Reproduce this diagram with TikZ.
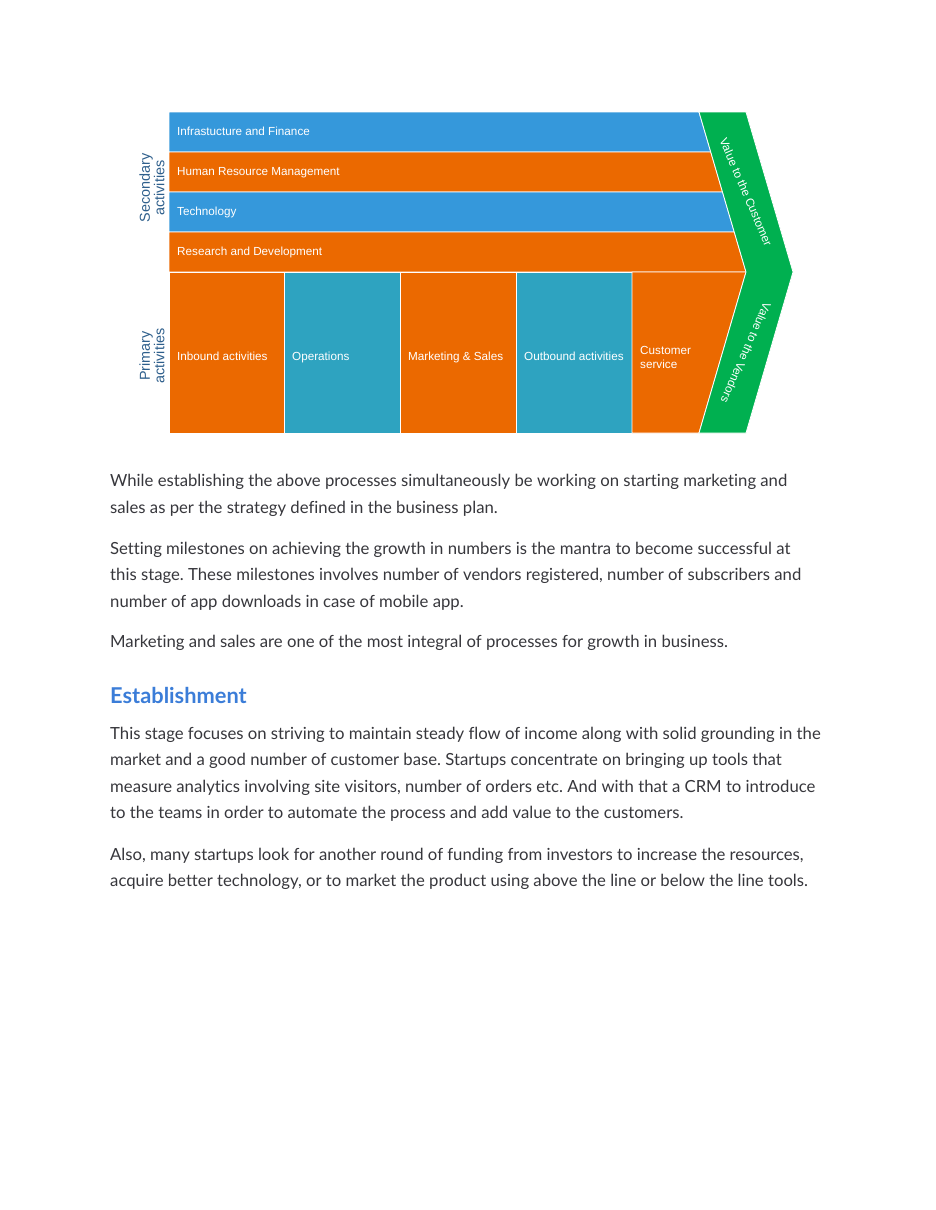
\documentclass[tikz,border=0pt]{standalone}
\usepackage{fontspec}
\setmainfont{Lato}[Ligatures=NoCommon]
\newfontfamily\chartfont{Liberation Sans}
\usepackage{tikz}
\frenchspacing

\definecolor{rowblue}{RGB}{53,152,219}
\definecolor{vcorange}{RGB}{235,105,0}
\definecolor{vcteal}{RGB}{46,163,192}
\definecolor{vcgreen}{RGB}{0,176,80}
\definecolor{sidelabel}{RGB}{46,95,140}
\definecolor{bodytext}{RGB}{55,55,60}
\definecolor{headblue}{RGB}{59,125,216}

\begin{document}
\begin{tikzpicture}[x=1pt,y=-1pt,
    band/.style={draw=white,line width=0.8pt},
    bandtext/.style={text=white,inner sep=0pt,anchor=mid west,align=left,
        font=\chartfont\fontsize{11.7}{14}\selectfont},
    chevtext/.style={text=white,inner sep=0pt,
        font=\chartfont\fontsize{11.7}{14}\selectfont},
    sidetext/.style={text=sidelabel,inner sep=0pt,rotate=90,align=center,
        font=\chartfont\fontsize{14.4}{14.5}\selectfont},
    bodyline/.style={text=bodytext,inner sep=0pt,anchor=mid west,
        font=\fontsize{16.7}{19}\selectfont}]
    \fill[white] (0,0) rectangle (935,1210);
    \useasboundingbox (0,0) rectangle (935,1210);

    % support activities
    \foreach \n/\ya/\yb/\c/\l in{
        infra/112/152/rowblue/{Infrastucture and Finance},
        hrm/152/192/vcorange/{Human Resource Management},
        tech/192/232/rowblue/{Technology},
        rnd/232/272/vcorange/{Research and Development}
        }
        {
            \path[fill=\c,band] (169,\ya) -- ({699+47*(\ya-112)/160},\ya)
                -- ({699+47*(\yb-112)/160},\yb) -- (169,\yb) -- cycle;
            \node[bandtext] (\n) at (177,{(\ya+\yb)/2+1}) {\l};
        }

    % primary activities
    \foreach \n/\xa/\xb/\c/\l in{
        inbound/169/284/vcorange/{Inbound activities},
        ops/284/400/vcteal/{Operations},
        mktg/400/516/vcorange/{Marketing \& Sales},
        outbound/516/632/vcteal/{Outbound activities}
        }
        {
            \path[fill=\c,band] (\xa,272) rectangle (\xb,433);
            \node[bandtext] (\n) at ({\xa+8},358) {\l};
        }
    \path[fill=vcorange,band] (632,272) -- (746,272) -- (699,433) -- (632,433) -- cycle;
    \node[bandtext,anchor=west] (service) at (640,357) {Customer\\service};

    % margin chevron
    \path[fill=vcgreen,band] (699,112) -- (746,112) -- (793,272)
        -- (746,433) -- (699,433) -- (746,272) -- cycle;
    \node[chevtext,rotate=-66.7] (customer) at (746,192) {Value to the Customer};
    \node[chevtext,rotate=-113.7] (vendors) at (746,353) {Value to the Vendors};

    \node[sidetext] (secondary) at (152,188) {Secondary\\activities};
    \node[sidetext] (primary) at (152,356) {Primary\\activities};

    % text below
    \foreach \n/\y/\t in{
        growa/484/{While establishing the above processes simultaneously be working on starting marketing and},
        growb/511/{sales as per the strategy defined in the business plan.},
        milea/552/{Setting milestones on achieving the growth in numbers is the mantra to become successful at},
        mileb/578/{this stage. These milestones involves number of vendors registered, number of subscribers and},
        milec/605/{number of app downloads in case of mobile app.},
        sales/645/{Marketing and sales are one of the most integral of processes for growth in business.},
        estaba/737/{This stage focuses on striving to maintain steady flow of income along with solid grounding in the},
        estabb/763/{market and a good number of customer base. Startups concentrate on bringing up tools that},
        estabc/790/{measure analytics involving site visitors, number of orders etc. And with that a CRM to introduce},
        estabd/816/{to the teams in order to automate the process and add value to the customers.},
        funda/858/{Also, many startups look for another round of funding from investors to increase the resources,},
        fundb/884/{acquire better technology, or to market the product using above the line or below the line tools.}
        }
        {
            \node[bodyline] (\n) at (110,\y) {\t};
        }
    \node[text=headblue,inner sep=0pt,anchor=mid west,
        font=\bfseries\fontsize{21.8}{26}\selectfont] (establishment) at (110,701) {Establishment};
\end{tikzpicture}
\end{document}
